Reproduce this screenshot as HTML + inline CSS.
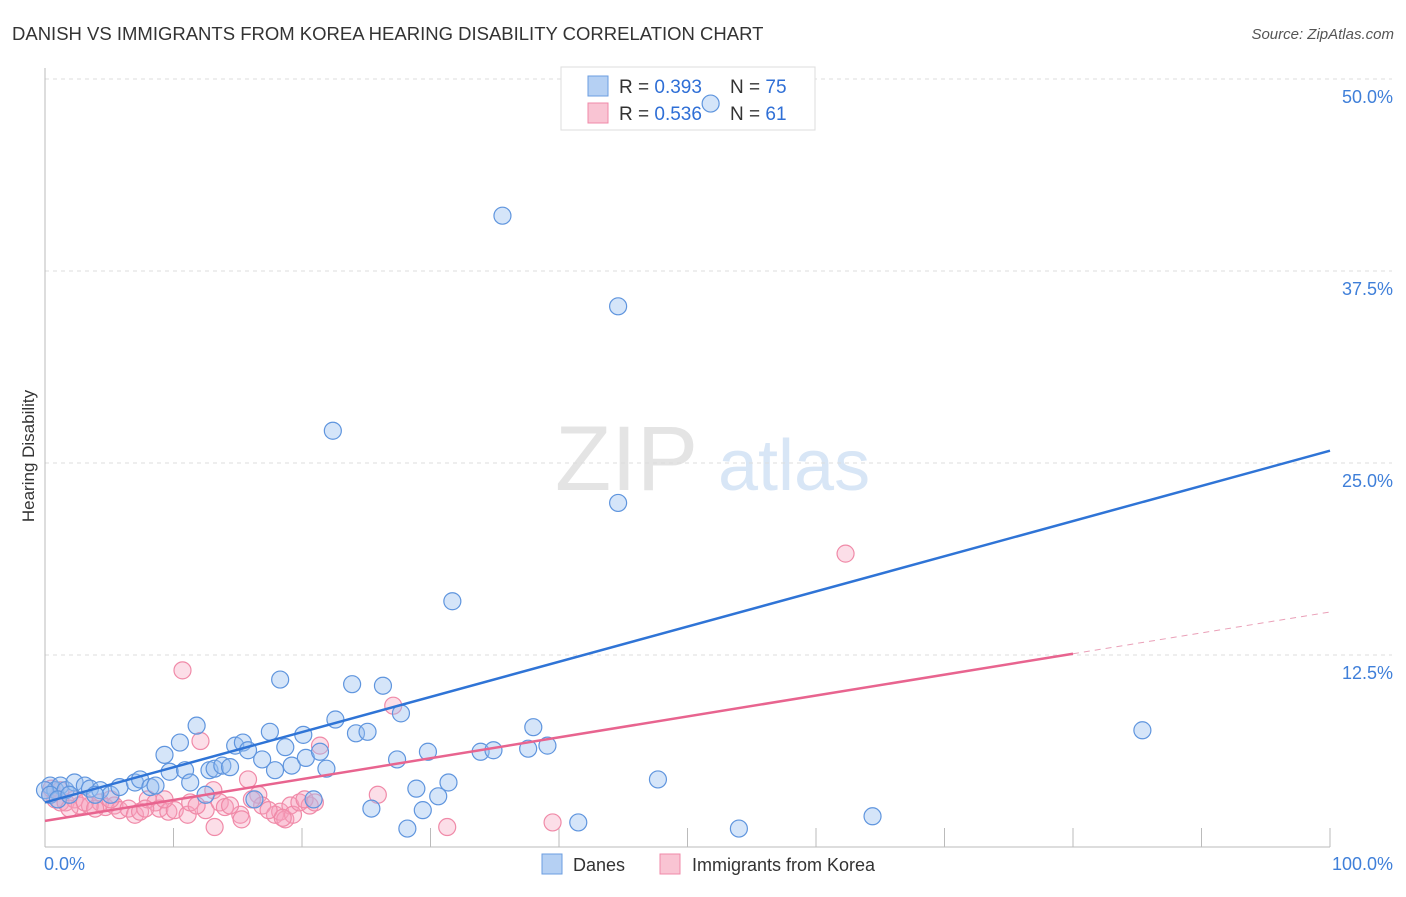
<!DOCTYPE html>
<html><head><meta charset="utf-8"><style>
body{margin:0;background:#fff;font-family:"Liberation Sans",sans-serif;}
svg text{font-family:"Liberation Sans",sans-serif;}
</style></head><body>
<svg id="chart" width="1406" height="892">
<text x="12" y="40" font-size="18.5" fill="#333">DANISH VS IMMIGRANTS FROM KOREA HEARING DISABILITY CORRELATION CHART</text>
<text x="1394" y="39" font-size="15" fill="#555" font-style="italic" text-anchor="end">Source: ZipAtlas.com</text>
<text x="555" y="490" font-size="92" fill="#e4e4e4" font-family="Liberation Serif">ZIP</text>
<text x="718" y="490" font-size="72" fill="#d8e6f6">atlas</text>
<text transform="translate(34,456) rotate(-90)" font-size="17" fill="#333" text-anchor="middle">Hearing Disability</text>
<g id="grid"></g><g id="axes"></g>
<g>
<rect x="561" y="67" width="254" height="63" fill="#fff" stroke="#ddd"/>
<rect x="588" y="76" width="20" height="20" fill="#b5d0f3" stroke="#6b9ee0"/>
<rect x="588" y="103" width="20" height="20" fill="#f9c4d3" stroke="#f08aa8"/>
<text x="619" y="93" font-size="19" fill="#333">R = <tspan fill="#2f6fd6">0.393</tspan></text>
<text x="730" y="93" font-size="19" fill="#333">N = <tspan fill="#2f6fd6">75</tspan></text>
<text x="619" y="120" font-size="19" fill="#333">R = <tspan fill="#2f6fd6">0.536</tspan></text>
<text x="730" y="120" font-size="19" fill="#333">N =  <tspan fill="#2f6fd6">61</tspan></text>
</g>
<g id="pts"></g><g id="lines"></g>
<rect x="542" y="854" width="20" height="20" fill="#b5d0f3" stroke="#6b9ee0"/>
<text x="573" y="871" font-size="18" fill="#333">Danes</text>
<rect x="660" y="854" width="20" height="20" fill="#f9c4d3" stroke="#f08aa8"/>
<text x="692" y="871" font-size="18" fill="#333">Immigrants from Korea</text>
</svg>
<script>
const yTicks=[12.5,25,37.5,50];
const yTickLabels=["12.5%","25.0%","37.5%","50.0%"];
const xTickLabels=["0.0%","100.0%"];
const danesX=[0.4,0.8,1.2,1.6,2.3,3.1,3.5,4.3,5.1,5.8,7.0,7.4,8.2,8.6,9.3,9.7,10.5,10.9,11.3,11.8,12.5,12.8,13.2,13.8,14.4,14.8,15.4,15.8,16.3,16.9,17.5,17.9,18.3,18.7,19.2,20.1,20.3,20.9,21.4,21.9,22.6,22.4,23.9,24.2,25.1,25.4,26.3,27.4,27.7,28.2,28.9,29.4,29.8,30.6,31.4,31.7,33.9,34.9,35.6,37.6,38.0,39.1,41.5,44.6,44.6,47.7,51.8,54.0,64.4,85.4,0.0,0.4,1.0,1.9,3.9];
const danesY=[4.0,3.7,4.0,3.7,4.2,4.0,3.8,3.7,3.4,3.9,4.2,4.4,3.9,4.0,6.0,4.9,6.8,5.0,4.2,7.9,3.4,5.0,5.1,5.3,5.2,6.6,6.8,6.3,3.1,5.7,7.5,5.0,10.9,6.5,5.3,7.3,5.8,3.1,6.2,5.1,8.3,27.1,10.6,7.4,7.5,2.5,10.5,5.7,8.7,1.2,3.8,2.4,6.2,3.3,4.2,16.0,6.2,6.3,41.1,6.4,7.8,6.6,1.6,35.2,22.4,4.4,48.4,1.2,2.0,7.6,3.7,3.4,3.1,3.4,3.4];
const koreaX=[0.4,0.8,1.2,1.6,2.3,2.7,3.5,4.3,4.7,5.4,5.8,6.5,7.0,7.4,8.0,8.6,8.9,9.6,10.1,10.7,11.1,11.3,12.1,12.5,13.1,13.2,13.6,14.0,15.2,15.3,15.8,16.6,16.9,17.9,18.3,18.7,19.1,19.3,19.8,20.6,21.4,25.9,27.1,31.3,39.5,62.3,0.5,1.9,3.1,5.1,7.8,9.3,11.8,14.4,16.1,17.4,18.5,20.2,21.0,1.2,3.9];
const koreaY=[3.4,3.1,2.9,2.9,3.1,2.7,2.7,2.9,2.6,2.7,2.4,2.5,2.1,2.3,3.1,2.9,2.5,2.3,2.4,11.5,2.1,2.9,6.9,2.4,3.7,1.3,2.9,2.6,2.1,1.8,4.4,3.4,2.7,2.1,2.3,1.8,2.7,2.1,2.9,2.7,6.6,3.4,9.2,1.3,1.6,19.1,3.8,2.5,2.9,3.1,2.5,3.1,2.7,2.7,3.1,2.4,1.9,3.1,2.9,3.7,2.5];
const danesTrend=[2.9,25.8];
const koreaTrend=[1.7,15.3];
const NS="http://www.w3.org/2000/svg";
const X0=45,X1=1330,Y0=847,Y50=79;
function sx(v){return X0+(X1-X0)*v/100;}
function sy(v){return Y0-(Y0-Y50)*v/50;}
function mk(tag,attrs,parent){const e=document.createElementNS(NS,tag);for(const k in attrs)e.setAttribute(k,attrs[k]);document.getElementById(parent).appendChild(e);return e;}
yTicks.forEach((t,i)=>{
 const g=mk('line',{x1:X0,x2:1392,y1:sy(t),y2:sy(t),stroke:'#ddd','stroke-dasharray':'4,4'},'grid');
 
 
 const l=mk('text',{x:1393,y:sy(t)+24,'font-size':18,fill:'#3f7fd9','text-anchor':'end'},'grid');
 l.textContent=yTickLabels[i];
 
 
});
const ax=mk('line',{x1:X0,x2:X0,y1:68,y2:Y0,stroke:'#bbb'},'axes');


const bx=mk('line',{x1:X0,x2:X1,y1:Y0,y2:Y0,stroke:'#bbb'},'axes');


for(let i=1;i<=10;i++){
 const t=mk('line',{x1:sx(i*10),x2:sx(i*10),y1:828,y2:Y0,stroke:'#bbb'},'axes');
 
 
}
const xl0=mk('text',{x:44,y:870,'font-size':18,fill:'#3f7fd9'},'axes');xl0.textContent=xTickLabels[0];


const xl1=mk('text',{x:1393,y:870,'font-size':18,fill:'#3f7fd9','text-anchor':'end'},'axes');xl1.textContent=xTickLabels[1];


koreaX.forEach((x,i)=>{
 const c=mk('circle',{cx:sx(x),cy:sy(koreaY[i]),r:8.5,fill:'rgba(245,160,190,0.35)',stroke:'#f08aa8','stroke-width':1.2},'pts');
 
 
});
danesX.forEach((x,i)=>{
 const c=mk('circle',{cx:sx(x),cy:sy(danesY[i]),r:8.5,fill:'rgba(150,190,240,0.4)',stroke:'#5f95de','stroke-width':1.2},'pts');
 
 
});
const dl=mk('line',{x1:sx(0),y1:sy(danesTrend[0]),x2:sx(100),y2:sy(danesTrend[1]),stroke:'#2f74d6','stroke-width':2.5},'lines');


const kAt=v=>koreaTrend[0]+(koreaTrend[1]-koreaTrend[0])*v/100;
const kl=mk('line',{x1:sx(0),y1:sy(kAt(0)),x2:sx(80),y2:sy(kAt(80)),stroke:'#e8648f','stroke-width':2.5},'lines');


const kd=mk('line',{x1:sx(80),y1:sy(kAt(80)),x2:sx(100),y2:sy(kAt(100)),stroke:'#eaa0b8','stroke-width':1,'stroke-dasharray':'6,5'},'lines');


</script>
</body></html>
